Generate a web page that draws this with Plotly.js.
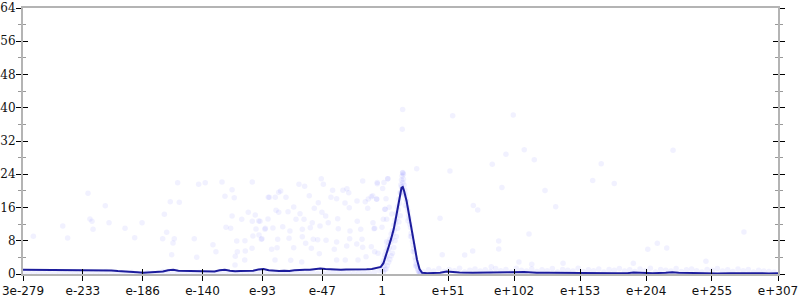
<!DOCTYPE html>
<html>
<head>
<meta charset="utf-8">
<script src="https://cdn.plot.ly/plotly-3.0.1.min.js"></script>
<style>html,body{margin:0;padding:0;background:#fff}#chart{width:800px;height:300px}</style>
</head>
<body>
<div id="chart"></div>
<script>
// x values are base-10 exponents of the binned value
const tickVals = [-278.52, -232.1, -185.7, -139.3, -92.8, -46.4, 0, 51.2, 102.3, 153.5, 204.7, 255.8, 307];
const tickText = ["3e-279", "e-233", "e-186", "e-140", "e-93", "e-47", "1", "e+51", "e+102", "e+153", "e+204", "e+255", "e+307"];

// mean line
const lineX = [-278.5,-270,-260,-250,-240,-230,-220,-214,-210,-205,-200,-195,-190,-185,-180,-175,-170,-166,-162,-158,-154,-150,-145,-140,-135,-130,-126,-122,-118,-114,-110,-105,-100,-96,-92,-88,-84,-80,-76,-72,-68,-64,-60,-56,-52,-48,-44,-40,-36,-32,-28,-24,-20,-16,-12,-8,-4,-1,1,3,5,7,9,11,13,15,16,17,19,21,23,25,27,29,31,35,40,45,50,55,60,70,80,90,100,110,120,130,140,150,160,170,180,190,195,200,210,220,225,230,240,250,260,270,280,290,300,307];
const lineY = [1.0,1.0,1.0,1.0,1.0,1.0,1.0,0.95,0.85,0.7,0.65,0.55,0.4,0.3,0.35,0.5,0.6,0.9,1.0,0.8,0.75,0.7,0.8,0.65,0.55,0.6,0.9,1.0,0.8,0.65,0.7,0.75,0.8,1.1,1.2,0.9,0.8,0.75,0.8,0.75,0.9,1.0,1.05,1.0,1.1,1.35,1.2,1.1,1.15,1.05,1.1,1.1,1.0,1.1,1.15,1.2,1.4,1.7,2.6,4.3,6.5,8.5,10.8,14,17.5,20.7,20.9,20,17.5,14,10,6.5,3.5,1.2,0.3,0.2,0.25,0.3,0.6,0.4,0.35,0.3,0.3,0.25,0.4,0.5,0.3,0.3,0.25,0.3,0.2,0.25,0.2,0.2,0.35,0.3,0.2,0.3,0.45,0.3,0.2,0.2,0.15,0.2,0.15,0.2,0.15,0.2];

// sparse individual samples
const dotX = [-270.5,-247.7,-243.9,-228.1,-226.6,-225.0,-224.2,-214.7,-211.8,-199.4,-191.9,-186.2,
-158.6,-142.3,-137.2,-124.2,-100.7,-116.4,-121.9,-114.7,-164.3,-157.3,-168.9,-103.8,-98.4,-88.3,-116.4,-108.9,-100.7,-95.7,-88.5,-121.1,-117.5,-97.8,-90.9,-167.1,-170.2,-161.2,-162.2,-145.7,-100.2,-95.5,-93.7,-112.8,-106.4,-131.2,-100.9,-128.9,-112.3,-106.1,-163.2,-113.9,-143.8,-106.6,-114.1,
-47.2,-64.5,-60.1,-45.6,-15.1,-3.8,4.3,-78.7,-80.2,-87.5,-82.9,-74.6,-56.5,-39.7,-35.3,-38.4,-30.4,-27.3,-25.9,-19.5,-7.3,-10.7,-4.2,-13.1,3.0,-28.8,-49.5,-52.6,-68.6,-82.3,-80.2,-73.0,-63.7,-46.7,-43.8,-25.5,-11.2,2.0,-66.8,-60.6,-54.2,-41.8,-34.5,-19.3,-7.1,0.9,-94.7,-90.6,-84.7,-77.1,-71.5,-61.9,-55.7,-48.2,-34.0,-24.9,-16.6,-6.3,-93.2,-81.0,-72.2,-61.9,-53.4,-50.0,-43.5,-35.3,-25.2,-15.6,-85.7,-81.5,-68.6,-59.3,-54.9,-48.7,-37.1,-27.5,-19.7,-15.1,-5.8,-83.1,-70.9,-62.4,-35.3,-28.6,-18.7,-12.5,
15.9,15.6,26.8,15.9,4.5,1.4,-3.8,0.4,-8.4,-4.3,5.5,2.4,7.6,3.5,-5.8,-0.1,3.5,-8.4,-3.2,
54.7,101.7,110.2,96.0,118.0,85.4,169.9,52.6,163.3,92.9,126.3,70.7,74.1,134.6,44.9,90.4,113.9,90.4,70.2,64.0,46.6,106.1,116.0,140.3,84.6,
180.0,225.6,280.6,213.4,220.7,206.0,251.1,194.8];
const dotY = [9.07,11.55,8.66,19.42,13.23,12.68,10.76,16.43,12.34,11.0,8.73,12.34,
21.97,21.58,21.97,22.14,22.14,20.28,18.7,18.36,17.4,17.25,14.36,14.85,14.2,18.46,13.96,13.16,12.68,12.75,13.23,11.24,11.0,10.83,10.76,10.03,8.49,8.49,7.46,8.49,9.14,9.38,8.35,7.94,8.01,7.05,6.18,5.37,5.37,5.53,4.64,4.26,4.02,3.37,2.17,
22.93,21.58,21.1,21.58,22.38,21.73,22.93,19.97,19.66,18.46,18.46,18.46,18.84,18.46,18.12,20.14,20.14,20.52,19.56,17.56,18.84,18.05,18.05,17.4,18.12,17.08,17.16,15.81,16.12,15.33,14.85,14.99,14.51,14.85,13.96,15.95,15.81,15.57,13.16,13.16,12.34,12.34,13.31,12.68,12.34,13.16,12.68,11.0,11.07,11.38,10.35,10.76,11.14,11.55,10.9,10.35,10.76,10.9,8.49,8.35,8.59,8.97,8.35,8.25,8.11,7.7,8.49,8.35,5.94,6.33,6.33,7.39,6.18,4.88,5.94,6.74,7.22,6.42,5.37,3.37,3.3,2.89,3.37,3.37,3.37,4.16,
39.6,34.8,25.3,24.4,22.9,22.0,22.0,20.6,18.6,18.0,16.05,15.57,14.44,13.16,11.0,11.24,7.77,6.57,4.98,
38.1,38.26,29.9,28.8,27.5,26.4,26.5,24.8,22.5,20.8,20.1,16.5,15.4,16.2,13.4,7.94,9.62,6.0,5.53,4.57,4.64,2.89,2.33,2.57,1.76,
21.8,29.8,10.1,7.39,6.26,5.94,3.06,2.57];

// dense samples around the peak
const peakX = [0,0.5,1,1.5,2,2.5,3,3.5,4,4.5,5,5.5,6,6.5,7,7.5,8,8.5,9,9.5,10,10.5,11,11.5,12,12.5,13,13.5,14,14.5,15,15.5,16,16.5,17,17.5,18,18.5,19,19.5,20,20.5,21,21.5,22,22.5,23,23.5,24,24.5,25,25.5,26,26.5,27,27.5,28,28.5,29,29.5,30,15,16,15.5,16.5,14.5,17,2,4,6,8,10,12,14,1,3,5,7,9,11,13,18,20,22,24,26];
const peakY = [1.0,2.5,3.2,2.0,4.6,3.8,5.5,4.2,6.6,5.8,7.5,6.2,8.4,7.6,9.6,8.5,10.4,9.6,11.8,10.6,13.0,12.2,14.6,13.5,16.2,15.4,18.0,17.0,19.6,21.5,22.6,23.6,24.3,22.8,21.4,20.2,19.2,18.0,17.4,16.0,15.2,14.1,13.3,12.0,11.2,9.8,9.0,7.9,7.0,6.1,5.2,4.0,3.3,2.4,1.8,1.2,0.8,0.5,0.3,0.2,0.1,21.0,22.0,20.5,24.0,19.5,19.0,1.0,2.0,3.5,5.0,8.0,11.0,14.0,0.4,1.2,2.8,4.4,6.4,9.0,12.5,16.5,12.8,9.0,5.4,2.0];

// dense samples along the bottom
const bandX = [-278,-274,-270,-266,-262,-258,-254,-250,-246,-242,-238,-234,-230,-226,-222,-218,-214,-210,-206,-202,-198,-194,-190,-186,-182,-178,-174,-170,-166,-162,-158,-154,-150,-146,-142,-138,-134,-130,-126,-122,-118,-114,-110,-106,-102,-98,-94,-90,-86,-82,-78,-74,-70,-66,-62,-58,-54,-50,-46,-42,-38,-34,-30,-26,-22,-18,-14,-10,-6,-2,
32,36,40,44,48,52,56,60,64,68,72,76,80,84,88,92,96,100,104,108,112,116,120,124,128,132,136,140,144,148,152,156,160,164,168,172,176,180,184,188,192,196,200,204,208,212,216,220,224,228,232,236,240,244,248,252,256,260,264,268,272,276,280,284,288,292,296,300,304];
const bandY = [0.1,0.25,0.15,0.3,0.1,0.2,0.15,0.3,0.1,0.2,0.25,0.1,0.3,0.15,0.2,0.1,0.6,0.15,0.3,0.1,0.2,0.35,0.15,0.1,0.3,0.2,0.15,0.6,0.2,0.1,0.3,0.15,0.2,0.1,0.35,0.15,0.2,0.1,0.5,0.2,0.15,0.3,0.1,0.2,0.25,0.15,0.4,0.1,0.2,0.3,0.15,0.2,0.1,0.35,0.2,0.15,0.3,0.1,0.25,0.2,0.5,0.15,0.3,0.2,0.1,0.4,0.25,0.2,0.5,0.8,
0.5,1.0,0.7,1.3,0.6,1.1,0.8,1.4,0.5,0.9,1.2,0.7,1.0,0.6,1.3,0.8,1.1,0.5,1.4,0.9,0.7,1.2,0.6,1.0,0.8,1.3,0.5,1.1,0.9,0.7,1.4,0.6,1.0,0.8,1.2,0.5,1.1,0.9,1.3,0.7,1.0,0.6,1.2,0.8,1.4,0.5,1.1,0.9,0.7,1.3,0.6,1.0,1.2,0.8,0.5,1.1,0.9,1.3,0.7,1.0,0.6,1.2,0.8,1.1,0.5,0.9,0.7,0.6,0.5];

const dotMarker = {color: 'rgba(70,70,255,0.075)', size: 5.5, line: {width: 0}};
const traces = [
  {x: bandX, y: bandY, type: 'scatter', mode: 'markers', marker: dotMarker, hoverinfo: 'skip'},
  {x: dotX, y: dotY, type: 'scatter', mode: 'markers', marker: dotMarker, hoverinfo: 'skip'},
  {x: peakX, y: peakY, type: 'scatter', mode: 'markers', marker: dotMarker, hoverinfo: 'skip'},
  {x: lineX, y: lineY, type: 'scatter', mode: 'lines', line: {color: '#1c1c9c', width: 2}, hoverinfo: 'skip'},
  {x: [null], y: [null], xaxis: 'x2', yaxis: 'y2', type: 'scatter', mode: 'markers', hoverinfo: 'skip'}
];

const xr = [-278.52, 307];
const layout = {
  width: 800, height: 300,
  margin: {l: 23, r: 22, t: 8, b: 26},
  paper_bgcolor: '#fff', plot_bgcolor: '#fff',
  showlegend: false,
  xaxis: {
    range: xr, tickmode: 'array', tickvals: tickVals, ticktext: tickText,
    ticks: 'outside', ticklen: 5, tickwidth: 1, tickcolor: '#000',
    showline: true, linecolor: '#b4b4b4', linewidth: 2, mirror: true,
    showgrid: false, zeroline: false, layer: 'below traces',
    tickfont: {family: 'DejaVu Sans', size: 12, color: '#111'}
  },
  xaxis2: {
    range: xr, overlaying: 'x', anchor: 'y', side: 'bottom',
    tickmode: 'array', tickvals: tickVals, ticks: 'inside', ticklen: 5, tickwidth: 1, tickcolor: '#000',
    showticklabels: false, showline: false, showgrid: false, zeroline: false
  },
  yaxis: {
    range: [0, 64], tickmode: 'linear', tick0: 0, dtick: 8,
    ticks: 'outside', ticklen: 5, tickwidth: 1, tickcolor: '#000',
    minor: {dtick: 4, ticks: 'outside', ticklen: 3, tickcolor: '#999', tickwidth: 1, showgrid: false},
    showline: true, linecolor: '#b4b4b4', linewidth: 2, mirror: 'allticks',
    showgrid: false, zeroline: false, ticklabelstandoff: -2,
    tickfont: {family: 'DejaVu Serif', size: 12, color: '#111'}
  },
  yaxis2: {
    range: [0, 64], overlaying: 'y', anchor: 'x', side: 'left',
    tickmode: 'linear', tick0: 0, dtick: 8,
    ticks: 'inside', ticklen: 5, tickwidth: 1, tickcolor: '#000',
    minor: {dtick: 4, ticks: 'inside', ticklen: 3, tickcolor: '#999', tickwidth: 1, showgrid: false},
    mirror: 'allticks', showline: false, showticklabels: false, showgrid: false, zeroline: false
  }
};

Plotly.newPlot('chart', traces, layout, {displayModeBar: false, staticPlot: true});
</script>
</body>
</html>
